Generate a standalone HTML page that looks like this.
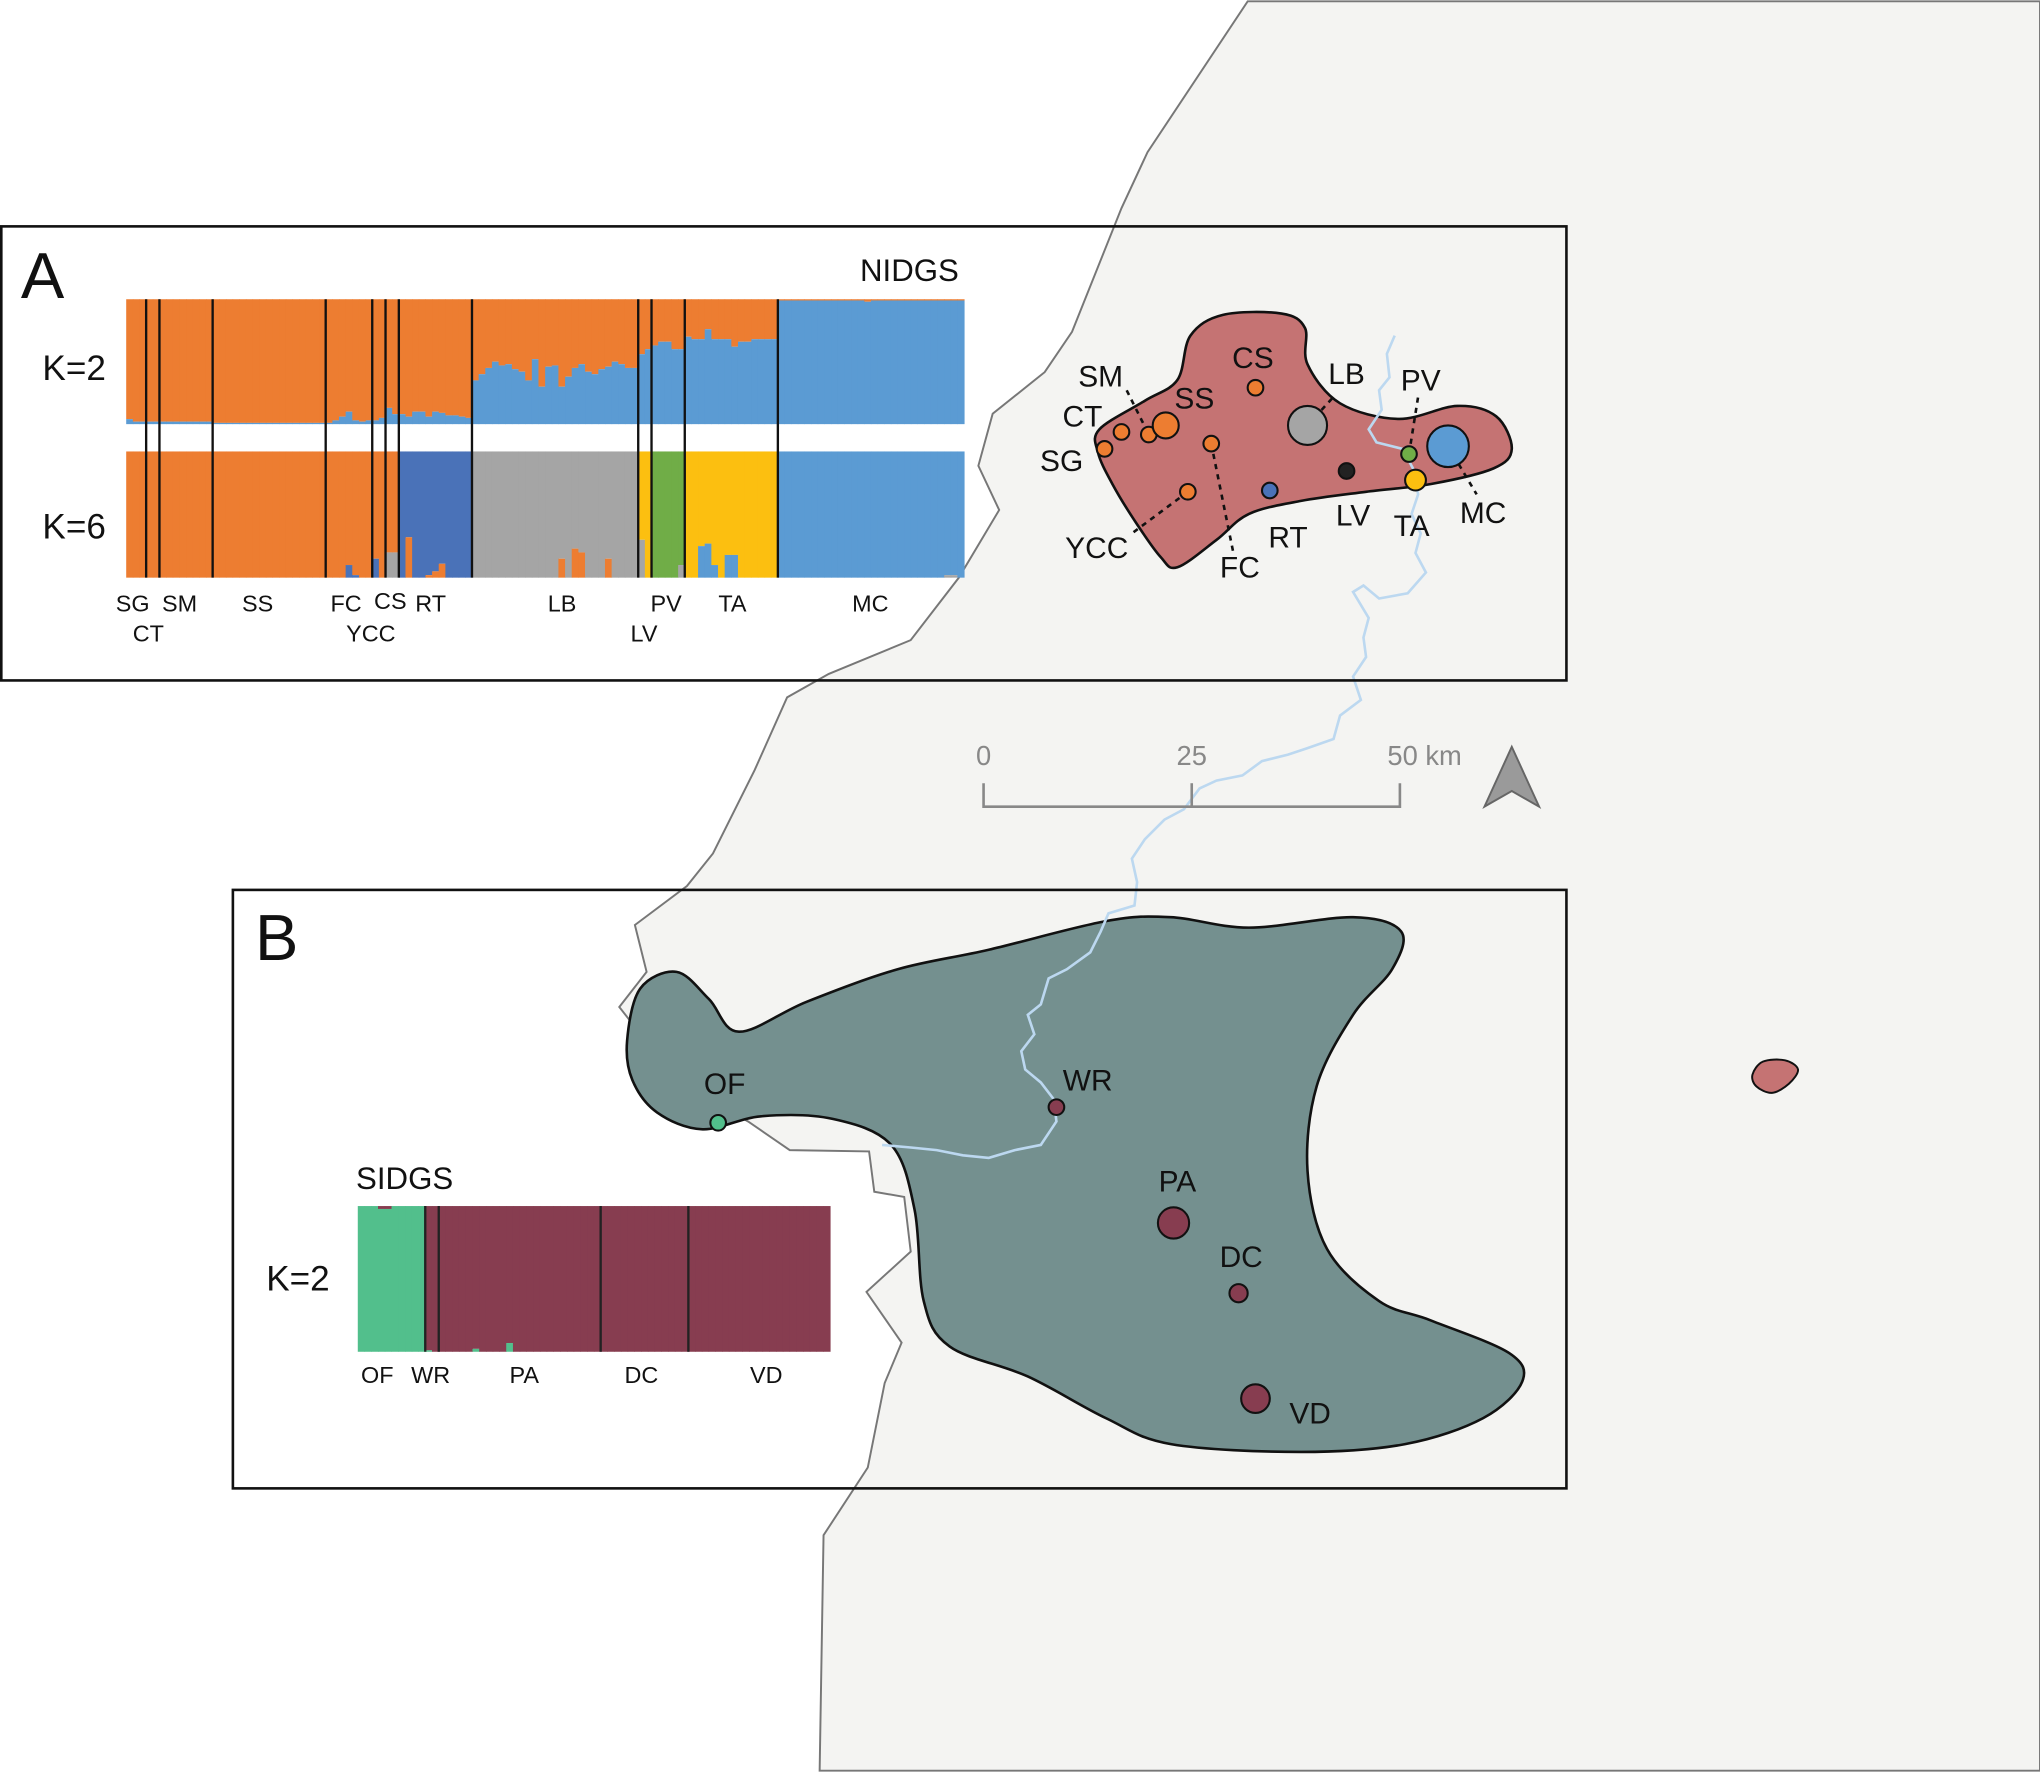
<!DOCTYPE html>
<html><head><meta charset="utf-8">
<style>
html,body{margin:0;padding:0;background:#fff;}
svg{display:block;}
text{font-family:"Liberation Sans",sans-serif;fill:#111;}
</style></head>
<body>
<svg id="fig" width="2040" height="1772" viewBox="0 0 1568 1362" xmlns="http://www.w3.org/2000/svg">
<g id="map">
<polygon fill="#f4f4f2" stroke="#777" stroke-width="1.5"
 points="959,1 1568,1 1568,1361 630,1361 633,1180 667,1128 680,1063 693,1032 666,993 700,962 695,920 672,916 668,885 607,884 575,862 520,830 476,774 497,747 488,711 528,681 548,656 580,592 605,536 637,518 700,492 737,444 768,392 752,358 763,318 803,286 824,255 862,160 882,117"/>
<path id="blobB" fill="#74908f" stroke="#111" stroke-width="2"/>
<path id="blobA" fill="#c57373" stroke="#111" stroke-width="2"/>
<path id="blobC" fill="#c57373" stroke="#111" stroke-width="1.5"/>
<path id="river" fill="none" stroke="#bcd8f0" stroke-width="2"/>
</g>
<rect x="1" y="174" width="1203" height="349" fill="none" stroke="#111" stroke-width="2"/>
<rect x="179" y="684" width="1025" height="460" fill="none" stroke="#111" stroke-width="2"/>
<rect x="3" y="176" width="760" height="345" fill="#fff" opacity="0"/>
<g id="barsA"></g>
<g id="barsB"></g>
<g id="leaders" stroke="#111" stroke-width="2" stroke-dasharray="4,4" fill="none">
<line x1="866" y1="300" x2="883" y2="334"/><line x1="931" y1="341" x2="948" y2="425"/>
<line x1="913" y1="378" x2="870" y2="410"/><line x1="1005" y1="327" x2="1025" y2="305"/>
<line x1="1083" y1="349" x2="1090" y2="305"/><line x1="1113" y1="343" x2="1135" y2="380"/>
</g>
<g id="sites"></g>
<g>
<text x="16" y="229" font-size="50">A</text>
<text x="196" y="738" font-size="50">B</text>
<text x="699" y="216" font-size="24" text-anchor="middle">NIDGS</text>
<text x="57" y="292" font-size="27" text-anchor="middle">K=2</text>
<text x="57" y="414" font-size="27" text-anchor="middle">K=6</text>
<text x="311" y="914" font-size="24" text-anchor="middle">SIDGS</text>
<text x="229" y="992" font-size="27" text-anchor="middle">K=2</text>
<g font-size="18" text-anchor="middle">
<text x="102" y="470">SG</text><text x="138" y="470">SM</text><text x="198" y="470">SS</text><text x="266" y="470">FC</text><text x="300" y="468">CS</text><text x="331" y="470">RT</text><text x="432" y="470">LB</text><text x="512" y="470">PV</text><text x="563" y="470">TA</text><text x="669" y="470">MC</text>
<text x="114" y="493">CT</text><text x="285" y="493">YCC</text><text x="495" y="493">LV</text>
</g>
<g font-size="18" text-anchor="middle">
<text x="290" y="1063">OF</text><text x="331" y="1063">WR</text><text x="403" y="1063">PA</text><text x="493" y="1063">DC</text><text x="589" y="1063">VD</text>
</g>
<g font-size="23" text-anchor="middle">
<text x="846" y="297">SM</text><text x="832" y="328">CT</text><text x="816" y="362">SG</text><text x="918" y="314">SS</text><text x="963" y="283">CS</text><text x="1035" y="295">LB</text><text x="1092" y="300">PV</text><text x="1040" y="404">LV</text><text x="1085" y="412">TA</text><text x="1140" y="402">MC</text><text x="990" y="421">RT</text><text x="953" y="444">FC</text><text x="843" y="429">YCC</text>
<text x="557" y="841">OF</text><text x="836" y="838">WR</text><text x="905" y="916">PA</text><text x="954" y="974">DC</text><text x="1007" y="1094">VD</text>
</g>
</g>
<g stroke="#888" stroke-width="2" fill="none">
<polyline points="756,602 756,620 1076,620 1076,602"/><line x1="916" y1="602" x2="916" y2="620"/>
</g>
<g font-size="21" fill="#888">
<text x="756" y="588" text-anchor="middle" style="fill:#888">0</text>
<text x="916" y="588" text-anchor="middle" style="fill:#888">25</text>
<text x="1095" y="588" text-anchor="middle" style="fill:#888">50 km</text>
</g>
<polygon points="1162,574 1141,620 1162,608 1183,620" fill="#9a9a9a" stroke="#666" stroke-width="1.5"/>
</svg>
<script>
// ---------- Data ----------
const nPops = ["SG","CT","SM","SS","FC","YCC","CS","RT","LB","LV","PV","TA","MC"];
const nPopSizes = [3,2,8,17,7,2,2,11,25,2,5,14,28];
const k2Blue = [
.04,.02,.02, .02,.02, .02,.02,.02,.02,.02,.02,.02,.02,
.01,.01,.01,.01,.01,.01,.01,.01,.01,.01,.01,.01,.01,.01,.01,.01,.01,
.01,.03,.06,.1,.03,.02,.03, .03,.05, .13,.08,
.08,.06,.1,.1,.06,.1,.09,.07,.07,.06,.05,
.35,.4,.45,.5,.47,.48,.44,.42,.35,.52,.3,.46,.47,.3,.38,.45,.48,.42,.4,.44,.46,.5,.48,.45,.45,
.56,.6, .63,.66,.66,.6,.6,
.7,.68,.68,.76,.68,.68,.68,.62,.66,.66,.68,.68,.68,.68,
.99,.99,.99,.99,.99,.99,.99,.99,.99,.99,.99,.99,.99,.98,.99,.99,.99,.99,.99,.99,.99,.99,.99,.99,.99,.99,.99,.99];
// K=6 clusters: 0 orange,1 dark blue,2 grey,3 green,4 yellow,5 light blue
const k6Primary = [0,0,0,0,0,0,0,1,2,4,3,4,5];
const k6Secondary = [0,0,0,0,1,1,2,0,0,2,2,5,2];
const k6SecFrac = [
0,0,0, 0,0, 0,0,0,0,0,0,0,0,
0,0,0,0,0,0,0,0,0,0,0,0,0,0,0,0,0,
0,0,0,.1,.02,0,0, .15,0, .2,.2,
0,.32,0,0,.02,.05,.11,0,0,0,0,
0,0,0,0,0,0,0,0,0,0,0,0,0,.15,0,.23,.2,0,0,0,.15,0,0,0,0,
.3,.0, 0,0,0,0,.1,
0,0,.25,.27,.1,0,.18,.18,0,0,0,0,0,0,
0,0,0,0,0,0,0,0,0,0,0,0,0,0,0,0,0,0,0,0,0,0,0,0,0,.02,.02,0];
const sPops = ["OF","WR","PA","DC","VD"];
const sPopSizes = [10,2,24,13,21];
const sGreen = [1,1,1,.98,.98,1,1,1,1,1, .01,0,
0,0,0,0,0,.02,0,0,0,0,.06,0,0,0,0,0,0,0,0,0,0,0,0,0,
0,0,0,0,0,0,0,0,0,0,0,0,0,
0,0,0,0,0,0,0,0,0,0,0,0,0,0,0,0,0,0,0,0,0];
const k6Colors = ["#ed7d31","#4a72b8","#a5a5a5","#70ad47","#fcbf10","#5b9bd3"];

const NS="http://www.w3.org/2000/svg";
function mk(tag,attrs,parent){const e=document.createElementNS(NS,tag);for(const k in attrs)e.setAttribute(k,attrs[k]);parent.appendChild(e);return e;}

// ---------- NIDGS plot ----------
const gA=document.getElementById('barsA');
const ax0=97, ax1=741, k2Top=230, k2Bot=326, k6Top=347, k6Bot=444;
const nTot=k2Blue.length, bw=(ax1-ax0)/nTot;
const xA=i=>ax0+i*bw;
const yK2=v=>k2Bot-v*(k2Bot-k2Top);
const yK6=v=>k6Bot-v*(k6Bot-k6Top);
let popOf=[];nPopSizes.forEach((s,p)=>{for(let j=0;j<s;j++)popOf.push(p);});
for(let i=0;i<nTot;i++){
  const b=k2Blue[i];
  const r1=mk('rect',{x:xA(i),y:k2Top,width:bw+0.4,height:yK2(b)-k2Top,fill:"#ed7d31"},gA);
  
  
  const r2=mk('rect',{x:xA(i),y:yK2(b),width:bw+0.4,height:k2Bot-yK2(b),fill:"#5b9bd3"},gA);
  
  
  const p=popOf[i], s=k6SecFrac[i];
  const r3=mk('rect',{x:xA(i),y:k6Top,width:bw+0.4,height:yK6(s)-k6Top,fill:k6Colors[k6Primary[p]]},gA);
  
  
  if(s>0){
    const r4=mk('rect',{x:xA(i),y:yK6(s),width:bw+0.4,height:k6Bot-yK6(s),fill:k6Colors[k6Secondary[p]]},gA);
    
    
  }
}
let acc=0;
for(let p=0;p<nPopSizes.length-1;p++){
  acc+=nPopSizes[p];
  const l=mk('line',{x1:xA(acc),x2:xA(acc),y1:k2Top,y2:k6Bot,stroke:"#111","stroke-width":1.8},gA);
  
  
}

// ---------- SIDGS plot ----------
const gB=document.getElementById('barsB');
const bx0=275,bx1=638,bTop=927,bBot=1039;
const sTot=sGreen.length, sbw=(bx1-bx0)/sTot;
const xB=i=>bx0+i*sbw;
const yB=v=>bBot-v*(bBot-bTop);
for(let i=0;i<sTot;i++){
  const g=sGreen[i];
  const r1=mk('rect',{x:xB(i),y:bTop,width:sbw+0.4,height:yB(g)-bTop,fill:"#873d50"},gB);
  
  
  const r2=mk('rect',{x:xB(i),y:yB(g),width:sbw+0.4,height:bBot-yB(g),fill:"#52bf8c"},gB);
  
  
}
acc=0;
for(let p=0;p<sPopSizes.length-1;p++){
  acc+=sPopSizes[p];
  const l=mk('line',{x1:xB(acc),x2:xB(acc),y1:bTop,y2:bBot,stroke:"#222","stroke-width":1.8},gB);
  
  
}

// ---------- Smooth shapes ----------
function smooth(pts,closed){
  let d="M"+pts[0][0]+","+pts[0][1];const n=pts.length;
  for(let i=0;i<(closed?n:n-1);i++){
    const p0=pts[(i-1+n)%n],p1=pts[i],p2=pts[(i+1)%n],p3=pts[(i+2)%n];
    const c1=[p1[0]+(p2[0]-p0[0])/6,p1[1]+(p2[1]-p0[1])/6];
    const c2=[p2[0]-(p3[0]-p1[0])/6,p2[1]-(p3[1]-p1[1])/6];
    d+=" C"+c1.join(",")+" "+c2.join(",")+" "+p2.join(",");
  }
  return d+(closed?"Z":"");
}
document.getElementById('blobA').setAttribute('d',smooth([[845,330],[880,308],[905,292],[915,258],[940,242],[985,241],[1003,252],[1005,280],[1030,310],[1075,322],[1120,312],[1150,320],[1162,345],[1148,360],[1100,372],[1050,378],[1000,385],[960,395],[935,415],[905,436],[892,428],[872,400],[855,372],[844,348]],true));
document.getElementById('blobB').setAttribute('d',smooth([[482,800],[492,760],[520,747],[545,768],[568,793],[620,770],[690,745],[760,730],[850,708],[900,705],[960,713],[1040,705],[1077,716],[1070,745],[1040,780],[1012,835],[1005,900],[1020,960],[1060,1000],[1100,1015],[1160,1040],[1170,1062],[1140,1090],[1080,1110],[1000,1116],[900,1110],[850,1090],[790,1058],[730,1035],[710,1000],[703,930],[685,880],[640,860],[585,858],[540,868],[505,855],[486,830]],true));
document.getElementById('blobC').setAttribute('d',smooth([[1347,826],[1355,816],[1372,815],[1382,822],[1375,833],[1362,840],[1350,835]],true));
document.getElementById('river').setAttribute('d',"M1072,258 L1066,272 1068,290 1060,300 1062,315 1052,330 1058,340 1078,345 1086,360 1090,380 1085,395 1092,410 1088,425 1096,440 1082,456 1060,460 1048,450 1040,455 1052,475 1048,490 1050,505 1040,520 1046,538 1030,550 1025,568 1005,575 990,580 970,585 955,596 935,600 922,606 910,622 895,630 880,645 870,660 874,678 872,696 852,702 846,716 838,732 820,745 806,752 800,772 790,780 795,795 785,808 788,822 800,832 810,845 812,862 800,880 780,884 760,890 740,888 720,884 700,882 678,880");

// ---------- Sites ----------
const siteX=[849,862,883,896,965,931,913,976,1005,1035,1083,1088,1113, 552,812,902,952,965];
const siteY=[345,332,334,327,298,341,378,377,327,362,349,369,343, 863,851,940,994,1075];
const siteR=[6,6,6,10,6,6,6,6,15,6,6,8,16, 6,6,12,7,11];
const siteC=["#ed7d31","#ed7d31","#ed7d31","#ed7d31","#ed7d31","#ed7d31","#ed7d31","#4a72b8","#a5a5a5","#222","#70ad47","#fcbf10","#5b9bd3","#52bf8c","#873d50","#873d50","#873d50","#873d50"];
const gS=document.getElementById('sites');
for(let i=0;i<siteX.length;i++){
  const c=mk('circle',{cx:siteX[i],cy:siteY[i],r:siteR[i],fill:siteC[i],stroke:"#111","stroke-width":1.6},gS);
  
  
}
</script>
</body></html>
